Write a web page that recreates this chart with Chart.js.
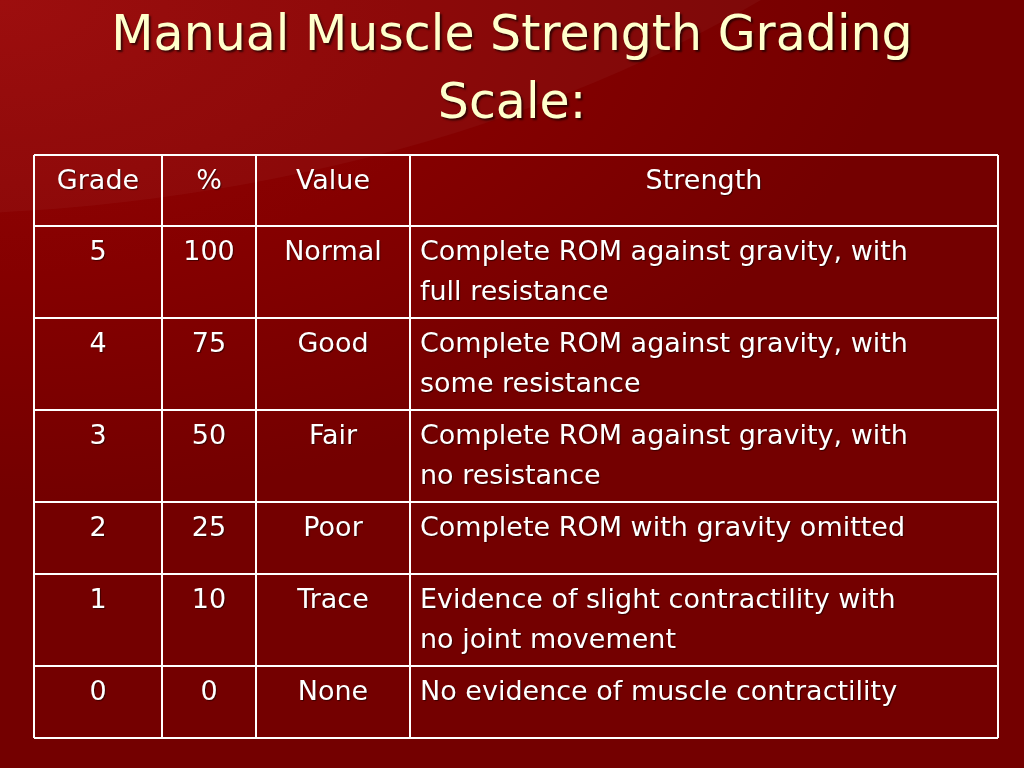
<!DOCTYPE html>
<html>
<head>
<meta charset="utf-8">
<script src="https://cdn.jsdelivr.net/npm/chart.js@4"></script>
<style>
  html, body { margin: 0; padding: 0; width: 1024px; height: 768px; overflow: hidden; }
  body {
    background: radial-gradient(ellipse 900px 500px at 0px 0px, #9a0606 0%, #850000 55%, #740000 100%);
    position: relative;
    font-family: "DejaVu Sans", Verdana, sans-serif;
  }
  #swoosh {
    position: absolute; left: -1400px; top: -1500px; width: 2600px; height: 1715px;
    border-radius: 50%; background: rgba(255,255,255,0.035);
  }
  #title {
    position: absolute; left: 0; top: 0; width: 1024px; text-align: center;
    color: #ffffcc; font-size: 49px; line-height: 68px;
    text-shadow: 2px 2px 2px rgba(0,0,0,0.6);
    font-family: "DejaVu Sans", sans-serif;
  }
  #wrap { position: absolute; left: 0; top: 0; width: 1024px; height: 768px; }
</style>
</head>
<body>
<div id="swoosh"></div>
<div id="title">Manual Muscle Strength Grading<br>Scale:</div>
<div id="wrap"><canvas id="tabla"></canvas></div>
<script>
// datos de la tabla
const headers = ['Grade', '%', 'Value', 'Strength'];
const grades = ['5', '4', '3', '2', '1', '0'];
const percents = ['100', '75', '50', '25', '10', '0'];
const values = ['Normal', 'Good', 'Fair', 'Poor', 'Trace', 'None'];
const strengths = [
  ['Complete ROM against gravity, with', 'full resistance'],
  ['Complete ROM against gravity, with', 'some resistance'],
  ['Complete ROM against gravity, with', 'no resistance'],
  ['Complete ROM with gravity omitted'],
  ['Evidence of slight contractility with', 'no joint movement'],
  ['No evidence of muscle contractility']
];

// bordes de columnas y filas (unidades de escala)
const colEdges = [0, 128, 222, 376, 964];
const rowEdges = [0, 71, 163, 255, 347, 419, 511, 583];

const tablaPlugin = {
  id: 'tabla',
  afterDraw(chart) {
    const { ctx, scales: { x, y } } = chart;
    const px = v => x.getPixelForValue(v);
    const py = v => y.getPixelForValue(v);
    ctx.save();
    ctx.strokeStyle = '#ffffff';
    ctx.lineWidth = 2;
    colEdges.forEach(c => { ctx.beginPath(); ctx.moveTo(px(c), py(0)); ctx.lineTo(px(c), py(583)); ctx.stroke(); });
    rowEdges.forEach(r => { ctx.beginPath(); ctx.moveTo(px(0), py(r)); ctx.lineTo(px(964), py(r)); ctx.stroke(); });

    ctx.fillStyle = '#ffffff';
    ctx.textBaseline = 'middle';
    ctx.shadowColor = 'rgba(0,0,0,0.5)';
    ctx.shadowOffsetX = 1; ctx.shadowOffsetY = 1; ctx.shadowBlur = 1;
    const center = (i) => (px(colEdges[i]) + px(colEdges[i + 1])) / 2;

    ctx.font = '27px "DejaVu Sans", sans-serif';
    ctx.textAlign = 'center';
    headers.forEach((h, i) => ctx.fillText(h, center(i), py(rowEdges[0]) + 27));

    grades.forEach((g, r) => {
      const top = py(rowEdges[r + 1]) + 27;
      ctx.font = '27px "DejaVu Sans", sans-serif';
      ctx.textAlign = 'center';
      ctx.fillText(g, center(0), top);
      ctx.fillText(percents[r], center(1), top);
      ctx.fillText(values[r], center(2), top);
      ctx.textAlign = 'left';
      strengths[r].forEach((line, k) => {
        // ajustar al ancho de la celda como en la diapositiva
        ctx.font = '27px "DejaVu Sans", sans-serif';
        ctx.fillText(line, px(colEdges[3]) + 10, top + k * 40, px(colEdges[4]) - px(colEdges[3]) - 22);
      });
    });
    ctx.restore();
  }
};

new Chart(document.getElementById('tabla'), {
  type: 'scatter',
  data: { datasets: [{ data: [] }] },
  options: {
    responsive: true,
    maintainAspectRatio: false,
    animation: false,
    layout: { padding: { left: 34, right: 26, top: 155, bottom: 30 } },
    plugins: { legend: { display: false }, tooltip: { enabled: false } },
    scales: {
      x: { type: 'linear', min: 0, max: 964, display: false },
      y: { type: 'linear', min: 0, max: 583, reverse: true, display: false }
    }
  },
  plugins: [tablaPlugin]
});
</script>
</body>
</html>
